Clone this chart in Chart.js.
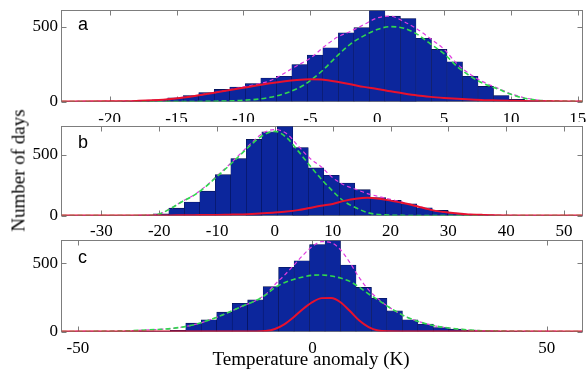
<!DOCTYPE html>
<html><head><meta charset="utf-8">
<script src="https://cdn.jsdelivr.net/npm/chart.js@4/dist/chart.umd.min.js"></script>
<style>
html,body{margin:0;padding:0;background:#fff;}
#wrap{position:relative;width:587px;height:372px;overflow:hidden;background:#fff;}
canvas{position:absolute;left:0;}
.lbl{position:absolute;font-family:"Liberation Sans",Arial,sans-serif;font-size:18px;line-height:18px;color:#000;}
.ttl{position:absolute;font-family:"Liberation Serif","Times New Roman",serif;font-size:19px;line-height:19px;color:#000;white-space:nowrap;text-align:center;}
</style></head>
<body><div id="wrap">
<canvas id="ca" width="587" height="122" style="top:0px"></canvas>
<canvas id="cb" width="587" height="118" style="top:120px"></canvas>
<canvas id="cc" width="587" height="136" style="top:236px"></canvas>
<div class="lbl" style="left:78px;top:15px">a</div>
<div class="lbl" style="left:78px;top:133px">b</div>
<div class="lbl" style="left:78px;top:248px">c</div>
<div class="ttl" style="left:-82px;top:161px;width:200px;transform:rotate(-90deg);transform-origin:50% 50%;">Number of days</div>
<div class="ttl" style="left:161px;top:349px;width:300px;">Temperature anomaly (K)</div>
</div>
<script>
// ---------- Panel a ----------
const aBinCenters = [-18.56,-17.40,-16.24,-15.08,-13.92,-12.76,-11.60,-10.44,-9.28,-8.12,-6.96,-5.80,-4.64,-3.48,-2.32,-1.16,0,1.16,2.32,3.48,4.64,5.80,6.96,8.12,9.28,10.44,11.60];
const aCounts     = [3,6,12,25,40,60,81,97,120,157,169,248,311,360,461,495,610,572,556,424,349,266,169,101,40,14,5];
const aCurveX     = [-23.6,-20,-18,-16,-14,-12,-10,-8,-6,-5,-4,-3,-2,-1,0,1,2,3,4,5,6,7,8,9,10,11,12,13,15.35];
const aRed        = [0,1,4,12,32,62,92,122,144,149,146,132,116,98,84,68,53,40,31,24,18,13,9,7,5,3,2,1,0];
const aGreen      = [0,0,0,0,0,2,8,28,85,140,215,305,385,440,482,502,491,450,385,320,232,168,118,85,48,22,8,3,0];
const aTotal      = [0,1,4,13,34,62,98,140,240,290,365,430,470,515,560,572,535,485,420,350,250,180,128,90,52,25,10,4,0];
const aXTicks     = [-20,-15,-10,-5,0,5,10,15];

// ---------- Panel b ----------
const bBinCenters = [-22.36,-19.68,-17.00,-14.32,-11.64,-8.96,-6.28,-3.60,-0.92,1.76,4.44,7.12,9.80,12.48,15.16,17.84,20.52,23.20,25.88,28.56,31.24,33.92,36.60];
const bCounts     = [3,14,60,110,200,335,467,624,686,735,558,390,330,266,212,146,124,96,63,42,20,8,3];
const bCurveX     = [-36.9,-25,-22,-20,-18,-16,-14,-12,-10,-8,-6,-4,-2,0,2,4,6,8,10,12,14,16,18,20,22,24,26,28,30,33,36,40,45,53.2];
const bRed        = [0,0,0,1,1,2,3,4,5,7,9,13,18,24,32,44,62,80,95,120,138,145,138,122,104,82,58,36,24,11,5,1,0,0];
const bGreen      = [0,0,2,12,58,115,165,235,320,405,496,585,659,690,640,530,412,300,200,115,64,24,8,3,1,0,0,0,0,0,0,0,0,0];
const bTotal      = [0,0,2,13,59,117,168,239,325,412,505,598,678,705,672,572,472,400,310,250,215,180,155,132,110,85,60,37,24,11,5,1,0,0];
const bXTicks     = [-30,-20,-10,0,10,20,30,40,50];

// ---------- Panel c ----------
const cBinCenters = [-35.25,-31.95,-28.65,-25.35,-22.05,-18.75,-15.45,-12.15,-8.85,-5.55,-2.25,1.05,4.35,7.65,10.95,14.25,17.55,20.85,24.15,27.45,30.75,34.05,37.35,40.65,43.95];
const cCounts     = [2,4,8,61,86,142,207,232,329,471,519,638,668,488,324,244,151,86,54,29,17,10,5,2,1];
const cCurveX     = [-53.5,-45,-40,-35,-30,-25,-20,-15,-12,-10,-8,-6,-4,-2,0,2,4,6,8,10,12,14,16,20,25,30,35,40,45,57.6];
const cRed        = [0,0,0,0,0,0,0,0,0,3,18,52,105,165,215,245,246,215,150,80,32,7,1,0,0,0,0,0,0,0];
const cGreen      = [0,1,4,12,22,52,110,185,228,268,322,358,382,400,413,415,408,392,368,325,275,232,186,108,50,22,7,3,1,0];
const cTotal      = [0,1,4,12,22,52,110,185,228,272,345,412,485,560,625,660,652,600,505,395,305,240,187,108,50,22,7,3,1,0];
const cXTicks     = [-50,0,50];

const yTicks = [0,500];

function pts(xs, ys){ return xs.map((x,i)=>({x:x, y:ys[i]})); }

Chart.defaults.font.family = 'Liberation Serif, serif';

const framePlugin = {
  id:'frame',
  beforeDatasetsDraw(chart){
    const {ctx, chartArea:a, scales:{x,y}} = chart;
    ctx.save();
    ctx.strokeStyle = '#7d7d7d'; ctx.lineWidth = 1;
    ctx.strokeRect(a.left, a.top, a.right-a.left, a.bottom-a.top);
    const L = 5;
    ctx.beginPath();
    x.ticks.forEach(t=>{
      const px = Math.round(x.getPixelForValue(t.value)) + 0.5;
      ctx.moveTo(px, a.top); ctx.lineTo(px, a.top+L);
      ctx.moveTo(px, a.bottom); ctx.lineTo(px, a.bottom-L);
    });
    y.ticks.forEach(t=>{
      const py = Math.round(y.getPixelForValue(t.value)) + 0.5;
      ctx.moveTo(a.left, py); ctx.lineTo(a.left+L, py);
      ctx.moveTo(a.right, py); ctx.lineTo(a.right-L, py);
    });
    ctx.stroke();
    ctx.restore();
  }
};

const tickFont = {family:'Liberation Serif, serif', size:17};

function makeChart(id, c){
  return new Chart(document.getElementById(id), {
    type:'bar',
    data:{datasets:[
      {type:'line', data:pts(c.curveX,c.red), borderColor:'#e8112d', borderWidth:2, pointRadius:0, cubicInterpolationMode:'monotone', order:0},
      {type:'line', data:pts(c.curveX,c.green), borderColor:'#30d84e', borderWidth:1.6, borderDash:[5,3], pointRadius:0, cubicInterpolationMode:'monotone', order:1},
      {type:'line', data:pts(c.curveX,c.total), borderColor:'#e03ce0', borderWidth:1.2, borderDash:[4,3], pointRadius:0, cubicInterpolationMode:'monotone', order:2},
      {type:'bar', data:pts(c.centers,c.counts), backgroundColor:'#0c269c', borderColor:'#050f4a', borderWidth:{left:0.5,right:0.5,top:0.6,bottom:0}, categoryPercentage:1, barPercentage:1, order:3}
    ]},
    options:{
      responsive:false, animation:false, events:[],
      layout:{padding:{top:c.padTop, right:4.5, left:0, bottom:0}},
      plugins:{legend:{display:false}, tooltip:{enabled:false}},
      scales:{
        x:{type:'linear', min:c.xMin, max:c.xMax, offset:false,
           grid:{display:false, drawTicks:false}, border:{display:false},
           ticks:{font:tickFont, color:'#000', padding:c.xPad, autoSkip:false, maxRotation:0, minRotation:0},
           afterBuildTicks:s=>{s.ticks = c.xTicks.map(v=>({value:v}));},
           afterFit:s=>{s.height=c.xH; s.paddingLeft=0; s.paddingRight=0;}},
        y:{type:'linear', min:0, max:c.yMax,
           grid:{display:false, drawTicks:false}, border:{display:false},
           ticks:{font:tickFont, color:'#000', padding:3.5},
           afterBuildTicks:s=>{s.ticks = yTicks.map(v=>({value:v}));},
           afterFit:s=>{s.width=61.5; s.paddingTop=0; s.paddingBottom=0;}}
      }
    },
    plugins:[framePlugin]
  });
}

makeChart('ca', {centers:aBinCenters, counts:aCounts, curveX:aCurveX, red:aRed, green:aGreen, total:aTotal,
  xTicks:aXTicks, xMin:-23.6, xMax:15.35, yMax:610, padTop:10.5, xH:20.5, xPad:8});
makeChart('cb', {centers:bBinCenters, counts:bCounts, curveX:bCurveX, red:bRed, green:bGreen, total:bTotal,
  xTicks:bXTicks, xMin:-36.9, xMax:53.2, yMax:730, padTop:6.5, xH:22.5, xPad:5.5});
makeChart('cc', {centers:cBinCenters, counts:cCounts, curveX:cCurveX, red:cRed, green:cGreen, total:cTotal,
  xTicks:cXTicks, xMin:-53.5, xMax:57.6, yMax:668, padTop:4.5, xH:40.5, xPad:7});
</script>
</body></html>
